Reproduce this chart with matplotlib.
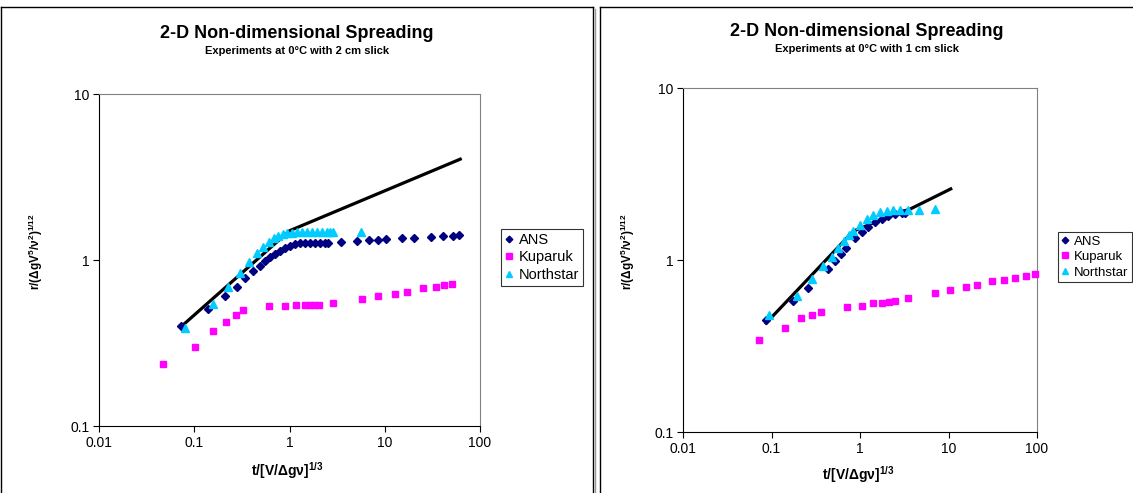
import numpy as np
import matplotlib
matplotlib.use("Agg")
from matplotlib import pyplot as plt
from matplotlib.lines import Line2D

plt.rcParams['font.family'] = ['Liberation Sans', 'DejaVu Sans']
plt.rcParams['mathtext.fontset'] = 'custom'
plt.rcParams['mathtext.bf'] = 'Liberation Sans:bold'
plt.rcParams['mathtext.rm'] = 'Liberation Sans:bold'
plt.rcParams['mathtext.default'] = 'bf'

# ---- data: 2 cm slick (left chart) ----
ans2_t = [0.072, 0.141, 0.210, 0.279, 0.343, 0.414, 0.490, 0.553, 0.624, 0.705, 0.794, 0.897,
          1.01, 1.14, 1.29, 1.45, 1.64, 1.85, 2.09, 2.36, 2.56, 3.44, 5.07, 6.89, 8.57, 10.2,
          15.3, 20.3, 30.3, 41.2, 51.6, 60.7]
ans2_r = [0.40, 0.504, 0.607, 0.691, 0.776, 0.855, 0.92, 0.986, 1.04, 1.09, 1.14, 1.18,
          1.21, 1.24, 1.26, 1.27, 1.27, 1.27, 1.27, 1.27, 1.27, 1.28, 1.30, 1.32, 1.32, 1.33,
          1.36, 1.36, 1.38, 1.39, 1.39, 1.41]
kup2_t = [0.0466, 0.103, 0.158, 0.214, 0.272, 0.327, 0.610, 0.897, 1.17, 1.45, 1.64, 1.81,
          2.02, 2.89, 5.72, 8.57, 12.8, 17.0, 25.4, 34.3, 42.2, 50.5]
kup2_r = [0.235, 0.299, 0.372, 0.421, 0.464, 0.500, 0.531, 0.531, 0.535, 0.535, 0.533, 0.533,
          0.533, 0.553, 0.582, 0.604, 0.627, 0.645, 0.675, 0.688, 0.707, 0.720]
nor2_t = [0.080, 0.156, 0.228, 0.302, 0.376, 0.452, 0.522, 0.610, 0.687, 0.764, 0.847, 0.948,
          1.05, 1.19, 1.34, 1.51, 1.71, 1.93, 2.18, 2.45, 2.66, 2.89, 5.59]
nor2_r = [0.388, 0.541, 0.691, 0.839, 0.977, 1.10, 1.20, 1.29, 1.35, 1.40, 1.43, 1.45,
          1.46, 1.47, 1.47, 1.47, 1.47, 1.47, 1.47, 1.47, 1.47, 1.47, 1.48]
theory2_t = [0.074, 0.79, 1.0, 62]
theory2_r = [0.40, 1.33, 1.50, 4.05]

# ---- data: 1 cm slick (right chart) ----
ans1_t = [0.0867, 0.177, 0.261, 0.438, 0.523, 0.610, 0.689, 0.879, 1.04, 1.24, 1.48, 1.76,
          2.09, 2.49, 2.96, 3.22]
ans1_r = [0.447, 0.574, 0.686, 0.888, 0.984, 1.08, 1.17, 1.35, 1.45, 1.56, 1.66, 1.73,
          1.80, 1.85, 1.87, 1.88]
kup1_t = [0.0723, 0.143, 0.215, 0.287, 0.360, 0.719, 1.06, 1.42, 1.76, 2.14, 2.48, 3.52,
          7.04, 10.4, 15.6, 20.8, 31.3, 42, 57, 75, 95]
kup1_r = [0.342, 0.402, 0.461, 0.482, 0.500, 0.532, 0.539, 0.559, 0.566, 0.571, 0.578, 0.600,
          0.641, 0.665, 0.695, 0.718, 0.753, 0.77, 0.79, 0.81, 0.83]
nor1_t = [0.0947, 0.192, 0.284, 0.385, 0.479, 0.569, 0.659, 0.751, 0.841, 1.0, 1.19, 1.41,
          1.68, 2.00, 2.38, 2.83, 3.52, 4.68, 7.03]
nor1_r = [0.476, 0.616, 0.777, 0.921, 1.04, 1.17, 1.29, 1.39, 1.47, 1.60, 1.72, 1.83,
          1.90, 1.93, 1.95, 1.95, 1.95, 1.95, 1.97]
theory1_t = [0.087, 0.84, 2.4, 3.7, 10.6]
theory1_r = [0.43, 1.47, 1.84, 1.98, 2.59]

xticks = [0.01, 0.1, 1, 10, 100]
xtick_labels = ["0.01", "0.1", "1", "10", "100"]
yticks = [0.1, 1, 10]
ytick_labels = ["0.1", "1", "10"]
series_names = ["ANS", "Kuparuk", "Northstar"]
subtitles = ["Experiments at 0°C with 2 cm slick", "Experiments at 0°C with 1 cm slick"]

W, H = 1133, 493
fig = plt.figure(figsize=(W / 100, H / 100), dpi=100)

# chart borders (Excel-style chart frames)
def vline(x, y0, y1, c="black", lw=1.0):
    fig.add_artist(Line2D([x / W, x / W], [1 - y0 / H, 1 - y1 / H], color=c, lw=lw))
def hline(x0, x1, y, c="black", lw=1.0):
    fig.add_artist(Line2D([x0 / W, x1 / W], [1 - y / H, 1 - y / H], color=c, lw=lw))

vline(1, 7, H); hline(1, 593, 7); vline(593, 7, H); vline(595, 9, H, c="#999999")
vline(600, 7, H); hline(600, W, 7)

def make_chart(rect, data, theory, subtitle, title_xy, ylab_x, xlab_y, leg_xy, leg_fs):
    ax = fig.add_axes(rect)
    ax.set_xscale("log")
    ax.set_yscale("log")
    ax.set_xlim(0.01, 100)
    ax.set_ylim(0.1, 10)
    ax.plot(theory[0], theory[1], color="black", lw=2.3, zorder=2)
    (at, ar), (kt, kr), (nt, nr) = data
    ax.plot(at, ar, ls="none", marker="D", ms=4.2, color="#000080", label=series_names[0],
            zorder=3, clip_on=False)
    ax.plot(kt, kr, ls="none", marker="s", ms=5, color="#FF00FF", label=series_names[1],
            zorder=3, clip_on=False)
    ax.plot(nt, nr, ls="none", marker="^", ms=5.5, color="#00CCFF", label=series_names[2],
            zorder=4, clip_on=False)
    ax.set_xticks(xticks)
    ax.set_xticklabels(xtick_labels)
    ax.set_yticks(yticks)
    ax.set_yticklabels(ytick_labels)
    ax.minorticks_off()
    ax.tick_params(direction="out", length=4, width=0.8, labelsize=10, pad=3)
    for s in ["top", "right"]:
        ax.spines[s].set_color("#808080")
    for s in ["left", "bottom"]:
        ax.spines[s].set_color("black")
    cx, ty = title_xy
    fig.text(cx / W, 1 - ty / H, "2-D Non-dimensional Spreading", ha="center", va="center",
             fontsize=13, fontweight="bold")
    fig.text(cx / W, 1 - (ty + 18) / H, subtitle, ha="center", va="center",
             fontsize=8, fontweight="bold")
    fig.text(ylab_x / W, 1 - 252 / H, r"r/($\Delta$gV$^{5}$/$\nu^{2}$)$^{1/12}$", rotation=90,
             ha="center", va="center", fontsize=8.5, fontweight="bold")
    x0 = rect[0] + rect[2] / 2 - 0.002
    fig.text(x0, 1 - xlab_y / H, r"t/[V/$\Delta$g$\nu$]$^{1/3}$", ha="center", va="center",
             fontsize=10, fontweight="bold")
    leg = ax.legend(loc="upper left", bbox_to_anchor=(leg_xy[0] / W, 1 - leg_xy[1] / H),
                    bbox_transform=fig.transFigure, fontsize=leg_fs, frameon=True, fancybox=False,
                    borderpad=0.25, handlelength=0.6, handletextpad=0.35, labelspacing=0.25,
                    borderaxespad=0, markerscale=0.8)
    leg.get_frame().set_edgecolor("black")
    leg.get_frame().set_linewidth(0.8)
    return ax

make_chart([99 / W, 1 - 426 / H, 381 / W, 332 / H],
           [(ans2_t, ans2_r), (kup2_t, kup2_r), (nor2_t, nor2_r)],
           (theory2_t, theory2_r), subtitles[0], (297, 33), 36, 471, (501, 229), 10.5)
make_chart([683 / W, 1 - 432 / H, 354 / W, 344 / H],
           [(ans1_t, ans1_r), (kup1_t, kup1_r), (nor1_t, nor1_r)],
           (theory1_t, theory1_r), subtitles[1], (867, 31), 628, 475, (1058, 232), 9.5)

fig.savefig("out.png", dpi=100)
